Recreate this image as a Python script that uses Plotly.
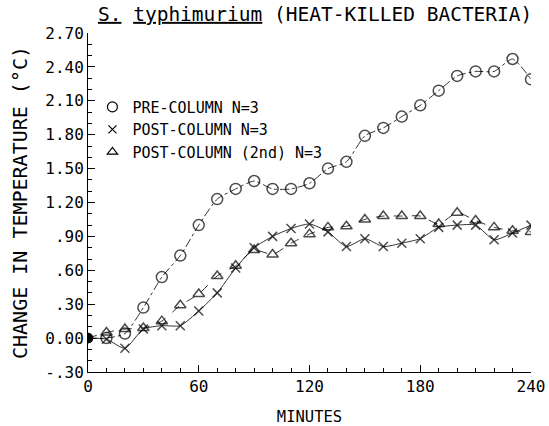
import plotly.graph_objects as go

# Temperature change over time, three runs
minutes = list(range(0, 250, 10))
pre_column = [0.00, 0.00, 0.04, 0.27, 0.54, 0.73, 1.00, 1.23, 1.32, 1.39,
              1.32, 1.32, 1.37, 1.50, 1.56, 1.79, 1.86, 1.96, 2.06, 2.19,
              2.32, 2.36, 2.36, 2.47, 2.29]
post_column = [0.00, -0.01, -0.09, 0.08, 0.11, 0.11, 0.24, 0.40, 0.62, 0.80,
               0.90, 0.97, 1.01, 0.94, 0.81, 0.88, 0.81, 0.84, 0.88, 0.98,
               1.00, 1.00, 0.87, 0.93, 1.00]
post_column_2nd = [0.00, 0.05, 0.08, 0.09, 0.15, 0.29, 0.39, 0.55, 0.64, 0.78,
                   0.74, 0.84, 0.92, 0.98, 0.99, 1.05, 1.08, 1.08, 1.08, 1.01,
                   1.11, 1.04, 0.98, 0.95, 0.94]

y_ticks = [-0.30, 0.00, 0.30, 0.60, 0.90, 1.20, 1.50, 1.80, 2.10, 2.40, 2.70]
y_tick_labels = ["-.30", "0.00", ".30", ".60", ".90", "1.20", "1.50",
                 "1.80", "2.10", "2.40", "2.70"]
x_ticks = [0, 60, 120, 180, 240]

FONT = "DejaVu Sans Mono"

series = [
    ("PRE-COLUMN N=3", pre_column, "circle-open", 11, "dashdot"),
    ("POST-COLUMN N=3", post_column, "x-thin-open", 9, "solid"),
    ("POST-COLUMN (2nd) N=3", post_column_2nd, "triangle-up-open", 10, "dash"),
]

fig = go.Figure()

# connecting lines (no legend entry)
for name, vals, sym, size, dash in series:
    fig.add_trace(go.Scatter(
        x=minutes, y=vals, mode="lines",
        line=dict(color="black", width=0.8, dash=dash, shape="spline", smoothing=0.6),
        showlegend=False, hoverinfo="skip",
    ))

# markers, first point drawn solid where all runs start
for name, vals, sym, size, dash in series:
    symbols = ["circle"] + [sym] * (len(vals) - 1)
    sizes = [9] + [size] * (len(vals) - 1)
    fig.add_trace(go.Scatter(
        x=minutes, y=vals, mode="markers", name=name, showlegend=False,
        marker=dict(symbol=symbols, size=sizes, color="black",
                    line=dict(color="black", width=1.5)),
    ))

# legend entries only show the open symbol
for name, vals, sym, size, dash in series:
    fig.add_trace(go.Scatter(
        x=[None], y=[None], mode="markers", name=name,
        marker=dict(symbol=sym, size=size - 1, color="black",
                    line=dict(color="black", width=1.2)),
    ))

fig.update_layout(
    width=549, height=426,
    margin=dict(l=88, r=18, t=33, b=54),
    paper_bgcolor="white", plot_bgcolor="white",
    font=dict(family=FONT, color="black", size=15),
    title=dict(
        text="<u>S.</u> <u>typhimurium</u> (HEAT-KILLED BACTERIA)",
        x=0.574, xanchor="center", y=0.967, yanchor="middle",
        font=dict(family=FONT, size=19.5), automargin=False,
    ),
    legend=dict(
        x=0.01, y=0.83, xanchor="left", yanchor="top",
        bgcolor="rgba(0,0,0,0)", font=dict(family=FONT, size=15),
        itemsizing="trace",
    ),
    xaxis=dict(
        range=[0, 240], tickvals=x_ticks, ticks="inside", ticklen=7,
        tickcolor="black", showline=True, linecolor="black", linewidth=1,
        showgrid=False, zeroline=False, tickfont=dict(size=16), automargin=False,
        minor=dict(dtick=10, ticks="inside", ticklen=4, tickcolor="black", showgrid=False),
        title=dict(text="MINUTES", font=dict(size=15.5), standoff=22),
    ),
    yaxis=dict(
        range=[-0.30, 2.70], tickvals=y_ticks, ticktext=y_tick_labels,
        ticks="inside", ticklen=7, tickcolor="black", showline=True,
        linecolor="black", linewidth=1, showgrid=False, zeroline=False,
        tickfont=dict(size=16), automargin=False,
        minor=dict(dtick=0.1, ticks="inside", ticklen=4, tickcolor="black", showgrid=False),
        title=dict(text="CHANGE IN TEMPERATURE (°C)", font=dict(size=20), standoff=12),
    ),
)

fig.write_html("out.html", config={"displayModeBar": False},
               post_script="document.body.style.margin='0';")
